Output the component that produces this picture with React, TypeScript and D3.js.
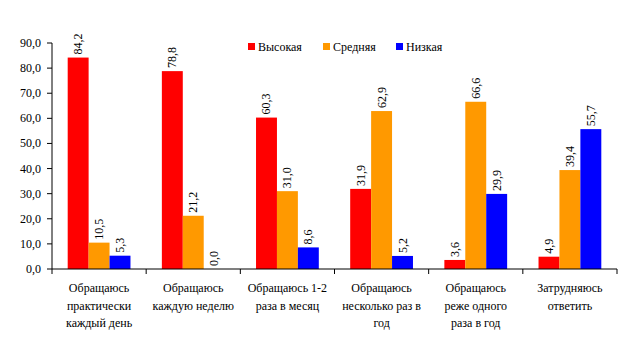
import { useEffect, useRef } from "react";
import * as d3 from "d3";

const categories = [
  ["Обращаюсь", "практически", "каждый день"],
  ["Обращаюсь", "каждую неделю"],
  ["Обращаюсь 1-2", "раза в месяц"],
  ["Обращаюсь", "несколько раз в", "год"],
  ["Обращаюсь", "реже одного", "раза в год"],
  ["Затрудняюсь", "ответить"],
];
const seriesNames = ["Высокая", "Средняя", "Низкая"];
const seriesColors = ["#ff0000", "#ff9900", "#0000ff"];
const high = [84.2, 78.8, 60.3, 31.9, 3.6, 4.9];
const medium = [10.5, 21.2, 31.0, 62.9, 66.6, 39.4];
const low = [5.3, 0.0, 8.6, 5.2, 29.9, 55.7];
const yTicks = [0, 10, 20, 30, 40, 50, 60, 70, 80, 90];

const fmt = (v: number) => v.toFixed(1).replace(".", ",");
const FONT = "'Liberation Serif', 'Times New Roman', Times, Tinos, 'Noto Serif', 'DejaVu Serif', FreeSerif, serif";

export default function App() {
  const ref = useRef<SVGSVGElement>(null);

  useEffect(() => {
    const svg = d3.select(ref.current);
    svg.selectAll("*").remove();

    const width = 622;
    const height = 351;
    const margin = { left: 52, right: 5, top: 43, bottom: 82 };
    const fs = 12;

    const series = [high, medium, low];

    const x = d3.scaleBand<number>()
      .domain(d3.range(categories.length))
      .range([margin.left, width - margin.right])
      .paddingInner(0).paddingOuter(0);
    const x1 = d3.scaleBand<number>()
      .domain(d3.range(series.length))
      .range([0, x.bandwidth()])
      .paddingOuter(0.75);
    const y = d3.scaleLinear()
      .domain([0, 90])
      .range([height - margin.bottom, margin.top]);

    const g = svg.append("g");

    const txt = (sel: any) => sel
      .attr("font-family", FONT)
      .style("font-family", FONT)
      .attr("font-size", fs)
      .attr("fill", "#000");

    // bars
    series.forEach((vals, si) => {
      g.selectAll(null)
        .data(vals)
        .enter().append("rect")
        .attr("x", (d, i) => x(i)! + x1(si)!)
        .attr("y", d => y(d))
        .attr("width", x1.bandwidth())
        .attr("height", d => y(0) - y(d))
        .attr("fill", seriesColors[si]);

      g.selectAll(null)
        .data(vals)
        .enter().append("text")
        .attr("transform", (d, i) => {
          const cx = x(i)! + x1(si)! + x1.bandwidth() / 2;
          return `translate(${cx},${y(d) - 3}) rotate(-90)`;
        })
        .attr("dominant-baseline", "central")
        .call(txt)
        .text(d => fmt(d));
    });

    // y axis
    const axisColor = "#000";
    g.append("line")
      .attr("x1", margin.left).attr("x2", margin.left)
      .attr("y1", y(90)).attr("y2", y(0))
      .attr("stroke", axisColor);
    yTicks.forEach(t => {
      g.append("line")
        .attr("x1", margin.left - 5).attr("x2", margin.left)
        .attr("y1", y(t)).attr("y2", y(t))
        .attr("stroke", axisColor);
      g.append("text")
        .attr("x", margin.left - 11)
        .attr("y", y(t))
        .attr("text-anchor", "end")
        .attr("dominant-baseline", "central")
        .call(txt)
        .text(fmt(t));
    });

    // x axis
    g.append("line")
      .attr("x1", margin.left).attr("x2", width - margin.right)
      .attr("y1", y(0)).attr("y2", y(0))
      .attr("stroke", axisColor);
    d3.range(categories.length + 1).forEach(i => {
      const xx = margin.left + i * x.bandwidth();
      g.append("line")
        .attr("x1", xx).attr("x2", xx)
        .attr("y1", y(0)).attr("y2", y(0) + 5)
        .attr("stroke", axisColor);
    });
    categories.forEach((lines, i) => {
      const t = g.append("text")
        .attr("text-anchor", "middle")
        .call(txt);
      lines.forEach((ln, li) => {
        t.append("tspan")
          .attr("x", x(i)! + x.bandwidth() / 2)
          .attr("y", y(0) + 23 + li * 17.5)
          .text(ln);
      });
    });

    // legend
    const legendX = [248, 323, 396];
    seriesNames.forEach((name, i) => {
      g.append("rect")
        .attr("x", legendX[i]).attr("y", 43)
        .attr("width", 7).attr("height", 7)
        .attr("fill", seriesColors[i]);
      g.append("text")
        .attr("x", legendX[i] + 10).attr("y", 47)
        .attr("dominant-baseline", "central")
        .call(txt)
        .text(name);
    });
  }, []);

  return (
    <svg ref={ref} width={622} height={351}
      style={{ position: "absolute", left: 0, top: 0, background: "#fff" }} />
  );
}
